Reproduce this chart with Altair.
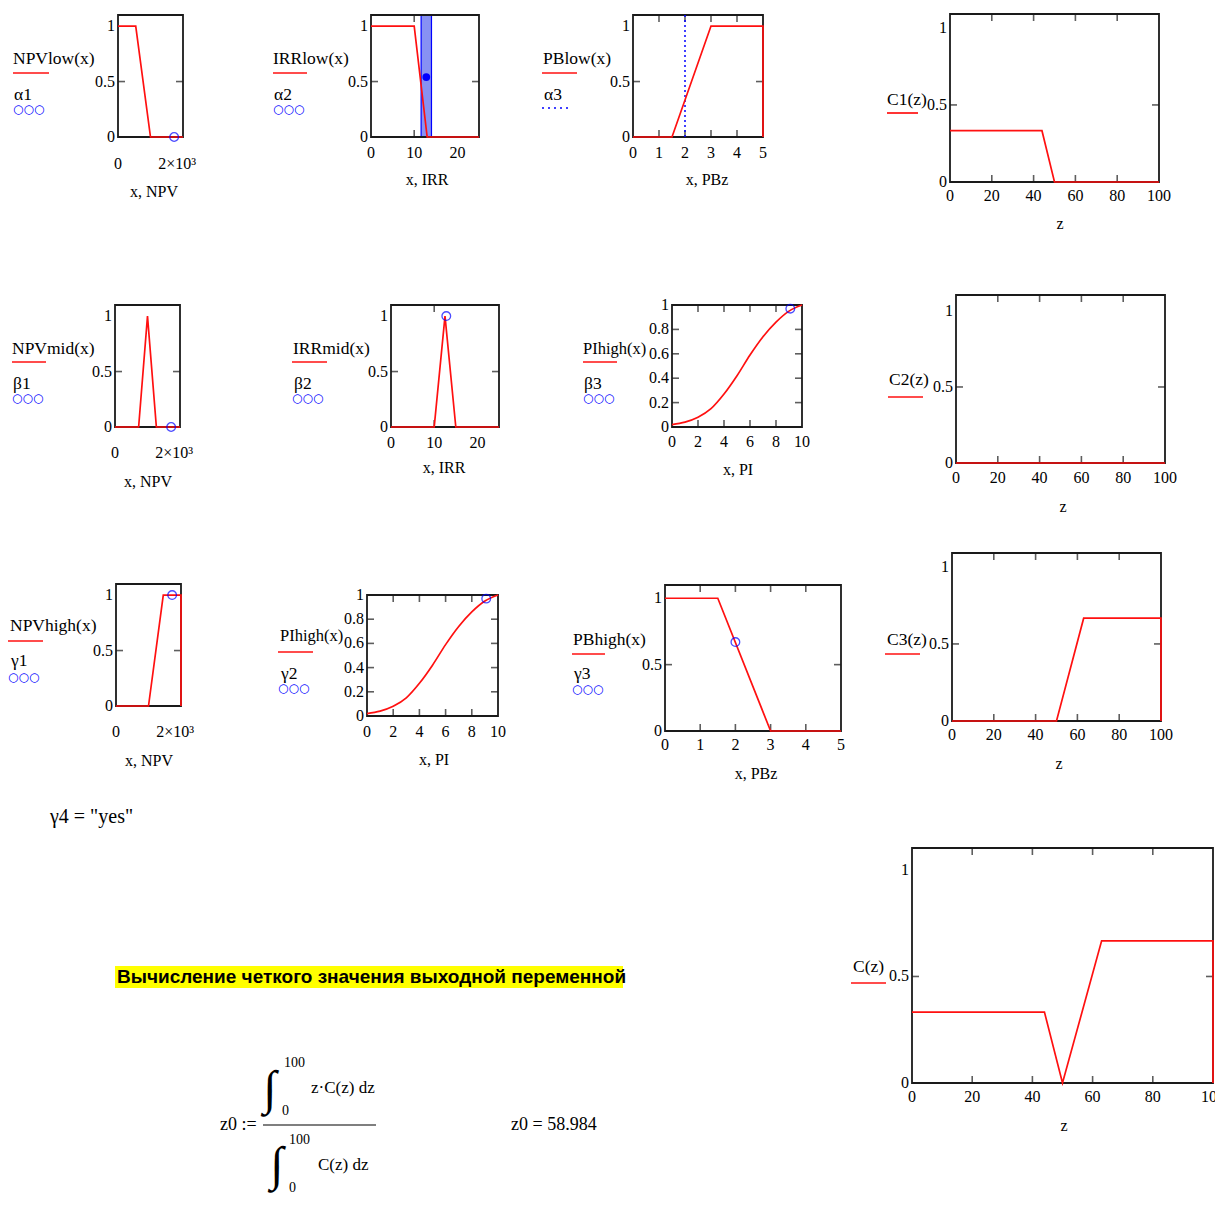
import altair as alt
import pandas as pd

# ---------------- chart values ----------------
NPV_LOW_X = [0, 600, 1100, 2200]
NPV_LOW_Y = [1, 1, 0, 0]
IRR_LOW_X = [0, 10, 13, 25]
IRR_LOW_Y = [1, 1, 0, 0]
PB_LOW_X = [0, 1.5, 3, 5, 5]
PB_LOW_Y = [0, 0, 1, 1, 0]
C1_X = [0, 44, 50, 100]
C1_Y = [0.333, 0.333, 0, 0]

NPV_MID_X = [0, 800, 1100, 1400, 2200]
NPV_MID_Y = [0, 0, 1, 0, 0]
IRR_MID_X = [0, 10, 12.5, 15, 25]
IRR_MID_Y = [0, 0, 1, 0, 0]
PI_X = [0, 1, 2, 3, 4, 5, 6, 7, 8, 9, 10]
PI_Y = [0.02, 0.04, 0.08, 0.15, 0.27, 0.42, 0.59, 0.74, 0.86, 0.95, 1.0]
C2_X = [0, 100]
C2_Y = [0, 0]

NPV_HIGH_X = [0, 1100, 1600, 2200, 2200]
NPV_HIGH_Y = [0, 0, 1, 1, 0]
PB_HIGH_X = [0, 1.5, 3, 5]
PB_HIGH_Y = [1, 1, 0, 0]
C3_X = [0, 50, 63, 100, 100]
C3_Y = [0, 0, 0.667, 0.667, 0]

C_X = [0, 44, 50, 63, 100, 100]
C_Y = [0.333, 0.333, 0, 0.667, 0.667, 0]

NPV, IRR, PB, PI = 1900, 12.8, 2.0, 9.1
ALPHA1, ALPHA2 = 0, 0.54
BETA1, BETA2, BETA3 = 0, 1, 0.97
GAMMA1, GAMMA2, GAMMA3 = 1, 0.97, 0.67
IRR_BAND = [11.6, 14.0]

NPV_TICKS = [0, 2000]
NPV_TICK_LABELS = ["0", "2×10³"]
IRR_TICKS = [0, 10, 20]
PB_TICKS = [0, 1, 2, 3, 4, 5]
PI_TICKS = [0, 2, 4, 6, 8, 10]
C_TICKS = [0, 20, 40, 60, 80, 100]
Y_TICKS = [0, 0.5, 1]
PI_Y_TICKS = [0, 0.2, 0.4, 0.6, 0.8, 1]

# ---------------- layout / style ----------------
W, H = 1207, 1198
M = 8
FONT = "Liberation Serif"
RED = "#ff1010"
BLUE = "#0000ff"
FRAME = "#1a1a1a"
TICK = 7
DUMMY = pd.DataFrame({"k": [0]})


def fmt(v):
    return f"{v:g}"


def txt(s, x, y, size=17, font=FONT, color="black", weight="normal", align="left",
        baseline="middle"):
    return alt.Chart(DUMMY).mark_text(text=s, font=font, fontSize=size, color=color,
                                      fontWeight=weight, align=align,
                                      baseline=baseline).encode(
        x=alt.value(x - M), y=alt.value(y - M))


def hrule(x1, x2, y, color, width=1.7, dash=None):
    kw = dict(color=color, strokeWidth=width)
    if dash:
        kw["strokeDash"] = dash
    return alt.Chart(DUMMY).mark_rule(**kw).encode(
        x=alt.value(x1 - M), x2=alt.value(x2 - M), y=alt.value(y - M))


def panel(box, xdom, ydom, lx, ly, xticks, yticks, xlab_y, title, title_xy,
          xlabels=None, pts=None, band=None, vline=None, smooth=False, dot=None):
    L, R, T, B = (v - M for v in box)
    xs = alt.Scale(domain=xdom, range=[L, R], nice=False, zero=False)
    ys = alt.Scale(domain=ydom, range=[B, T], nice=False, zero=False)
    X = lambda f: alt.X(f, scale=xs, axis=None)
    Y = lambda f: alt.Y(f, scale=ys, axis=None)
    layers = []

    frame = pd.DataFrame({"x0": [xdom[0]], "x1": [xdom[1]], "y0": [ydom[0]], "y1": [ydom[1]]})
    if band is not None:
        bdf = pd.DataFrame({"x0": [band[0]], "x1": [band[1]], "y0": [ydom[0]], "y1": [ydom[1]]})
        layers.append(
            alt.Chart(bdf).mark_rect(fill="#8791f3", stroke=BLUE, strokeWidth=1.2).encode(
                x=X("x0:Q"), x2="x1:Q", y=Y("y0:Q"), y2="y1:Q"))
    layers.append(
        alt.Chart(frame).mark_rect(fillOpacity=0, stroke=FRAME, strokeWidth=1.8).encode(
            x=X("x0:Q"), x2="x1:Q", y=Y("y0:Q"), y2="y1:Q"))
    xt = xticks[1:-1]
    yt = yticks[1:-1]
    for edge, off in ((ydom[0], -TICK / 2), (ydom[1], TICK / 2)):
        df = pd.DataFrame({"v": xt, "e": [edge] * len(xt)})
        layers.append(
            alt.Chart(df).mark_tick(orient="vertical", size=TICK, thickness=1.6,
                                    color=FRAME, yOffset=off).encode(x=X("v:Q"), y=Y("e:Q")))
    for edge, off in ((xdom[0], TICK / 2), (xdom[1], -TICK / 2)):
        df = pd.DataFrame({"v": yt, "e": [edge] * len(yt)})
        layers.append(
            alt.Chart(df).mark_tick(orient="horizontal", size=TICK, thickness=1.6,
                                    color=FRAME, xOffset=off).encode(y=Y("v:Q"), x=X("e:Q")))
    # tick labels (through the panel scales)
    xl = xlabels if xlabels else [fmt(v) for v in xticks]
    xdf = pd.DataFrame({"v": xticks, "t": xl})
    layers.append(
        alt.Chart(xdf).mark_text(font=FONT, fontSize=16, color="black", align="center",
                                 baseline="middle").encode(
            x=X("v:Q"), y=alt.value(xlab_y - M), text="t:N"))
    ydf = pd.DataFrame({"v": yticks, "t": [fmt(v) for v in yticks]})
    layers.append(
        alt.Chart(ydf).mark_text(font=FONT, fontSize=16, color="black", align="right",
                                 baseline="middle").encode(
            y=Y("v:Q"), x=alt.value(L - 3), text="t:N"))
    if vline is not None:
        vdf = pd.DataFrame({"x": [vline], "y0": [ydom[0]], "y1": [ydom[1]]})
        layers.append(
            alt.Chart(vdf).mark_rule(color=BLUE, strokeWidth=1.5, strokeDash=[2, 3]).encode(
                x=X("x:Q"), y=Y("y0:Q"), y2="y1:Q"))

    ldf = pd.DataFrame({"x": lx, "y": ly, "i": list(range(len(lx)))})
    layers.append(
        alt.Chart(ldf).mark_line(color=RED, strokeWidth=1.7,
                                 interpolate="monotone" if smooth else "linear").encode(
            x=X("x:Q"), y=Y("y:Q"), order="i:Q"))
    if pts:
        pdf = pd.DataFrame({"x": [p[0] for p in pts], "y": [p[1] for p in pts]})
        layers.append(
            alt.Chart(pdf).mark_point(shape="circle", filled=False, color=BLUE, size=75,
                                      strokeWidth=1.3).encode(x=X("x:Q"), y=Y("y:Q")))
    if dot:
        ddf = pd.DataFrame({"x": [dot[0]], "y": [dot[1]]})
        layers.append(
            alt.Chart(ddf).mark_point(shape="circle", filled=True, color=BLUE, size=60,
                                      opacity=1).encode(x=X("x:Q"), y=Y("y:Q")))
    layers.append(txt(title, title_xy[0], title_xy[1], size=16, align="center"))
    return alt.layer(*layers)


panels = [
    panel((118, 183, 15, 137), [0, 2200], [0, 1.1], NPV_LOW_X, NPV_LOW_Y, NPV_TICKS, Y_TICKS,
          164, "x, NPV", (154, 192), xlabels=NPV_TICK_LABELS, pts=[(NPV, ALPHA1)]),
    panel((371, 479, 15, 137), [0, 25], [0, 1.1], IRR_LOW_X, IRR_LOW_Y, IRR_TICKS, Y_TICKS,
          153, "x, IRR", (427, 180), band=IRR_BAND, dot=(IRR, ALPHA2)),
    panel((633, 763, 15, 137), [0, 5], [0, 1.1], PB_LOW_X, PB_LOW_Y, PB_TICKS, Y_TICKS,
          153, "x, PBz", (707, 180), vline=PB),
    panel((950, 1159, 14, 182), [0, 100], [0, 1.09], C1_X, C1_Y, C_TICKS, Y_TICKS,
          196, "z", (1060, 224)),
    panel((115, 180, 305, 427), [0, 2200], [0, 1.1], NPV_MID_X, NPV_MID_Y, NPV_TICKS, Y_TICKS,
          453, "x, NPV", (148, 482), xlabels=NPV_TICK_LABELS, pts=[(NPV, BETA1)]),
    panel((391, 499, 305, 427), [0, 25], [0, 1.1], IRR_MID_X, IRR_MID_Y, IRR_TICKS, Y_TICKS,
          443, "x, IRR", (444, 468), pts=[(IRR, BETA2)]),
    panel((672, 802, 305, 427), [0, 10], [0, 1], PI_X, PI_Y, PI_TICKS, PI_Y_TICKS,
          442, "x, PI", (738, 470), pts=[(PI, BETA3)], smooth=True),
    panel((956, 1165, 295, 463), [0, 100], [0, 1.105], C2_X, C2_Y, C_TICKS, Y_TICKS,
          478, "z", (1063, 507)),
    panel((116, 181, 584, 706), [0, 2200], [0, 1.1], NPV_HIGH_X, NPV_HIGH_Y, NPV_TICKS, Y_TICKS,
          732, "x, NPV", (149, 761), xlabels=NPV_TICK_LABELS, pts=[(NPV, GAMMA1)]),
    panel((367, 498, 595, 716), [0, 10], [0, 1], PI_X, PI_Y, PI_TICKS, PI_Y_TICKS,
          732, "x, PI", (434, 760), pts=[(PI, GAMMA2)], smooth=True),
    panel((665, 841, 585, 731), [0, 5], [0, 1.1], PB_HIGH_X, PB_HIGH_Y, PB_TICKS, Y_TICKS,
          745, "x, PBz", (756, 774), pts=[(PB, GAMMA3)]),
    panel((952, 1161, 553, 721), [0, 100], [0, 1.09], C3_X, C3_Y, C_TICKS, Y_TICKS,
          735, "z", (1059, 764)),
    panel((912, 1213, 848, 1083), [0, 100], [0, 1.103], C_X, C_Y, C_TICKS, Y_TICKS,
          1097, "z", (1064, 1126)),
]


def circles(x, y):
    return txt("○○○", x, y, size=12, font="DejaVu Sans", color=BLUE)


deco = []
# (name, text x, text y, rule x1, rule x2, rule y, symbol, symbol y, marker y, kind, size)
LEG = [
    ("NPVlow(x)", 13, 59, 13, 49, 73, "α1", 95, 109, "c", 17.5),
    ("IRRlow(x)", 273, 59, 273, 307, 73, "α2", 95, 109, "c", 17.5),
    ("PBlow(x)", 543, 59, 542, 577, 73, "α3", 95, 108, "d", 17.5),
    ("C1(z)", 887, 100, 887, 918, 113, None, None, None, None, 17.5),
    ("NPVmid(x)", 12, 349, 12, 46, 362, "β1", 384, 398, "c", 17.5),
    ("IRRmid(x)", 293, 349, 292, 327, 362, "β2", 384, 398, "c", 17.5),
    ("PIhigh(x)", 583, 349, 583, 617, 362, "β3", 384, 398, "c", 16.5),
    ("C2(z)", 889, 380, 888, 923, 397, None, None, None, None, 17.5),
    ("NPVhigh(x)", 10, 626, 8, 43, 641, "γ1", 661, 677, "c", 17.5),
    ("PIhigh(x)", 280, 636, 278, 313, 652, "γ2", 674, 688, "c", 16.5),
    ("PBhigh(x)", 573, 640, 572, 605, 654, "γ3", 674, 689, "c", 17.5),
    ("C3(z)", 887, 640, 885, 920, 654, None, None, None, None, 17.5),
    ("C(z)", 853, 967, 851, 886, 983, None, None, None, None, 17.5),
]
for name, tx, ty, r1, r2, ry, sym, sy, cy, kind, fs in LEG:
    deco.append(txt(name, tx, ty, size=fs))
    deco.append(hrule(r1, r2, ry, RED))
    if sym:
        deco.append(txt(sym, tx + 1, sy, size=17.5))
        if kind == "c":
            deco.append(circles(r1, cy))
        else:
            deco.append(hrule(r1, r1 + 28, cy, BLUE, width=1.5, dash=[2, 4]))

# bottom texts
deco.append(txt('γ4 = "yes"', 50, 817, size=20))
deco.append(alt.Chart(DUMMY).mark_rect(color="#ffff00").encode(
    x=alt.value(115 - M), x2=alt.value(623 - M), y=alt.value(966 - M), y2=alt.value(988 - M)))
deco.append(txt("Вычисление четкого значения выходной переменной", 117, 977, size=19,
                font="Liberation Sans", weight="bold"))
deco.append(txt("z0 :=", 220, 1125, size=18))
deco.append(hrule(263, 376, 1125, "black", width=1.2))
deco.append(txt("∫", 270, 1090, size=48, align="center"))
deco.append(txt("100", 284, 1063, size=14))
deco.append(txt("0", 282, 1111, size=14))
deco.append(txt("z·C(z) dz", 311, 1088, size=17))
deco.append(txt("∫", 277, 1166, size=48, align="center"))
deco.append(txt("100", 289, 1140, size=14))
deco.append(txt("0", 289, 1188, size=14))
deco.append(txt("C(z) dz", 318, 1165, size=17))
deco.append(txt("z0 = 58.984", 511, 1125, size=18))

chart = alt.layer(*panels, *deco).resolve_scale(
    x="independent", y="independent"
).properties(
    width=W, height=H, padding=0, autosize="none"
).configure_view(stroke=None)

chart.save("out.html", embed_options={"renderer": "svg", "actions": False})
